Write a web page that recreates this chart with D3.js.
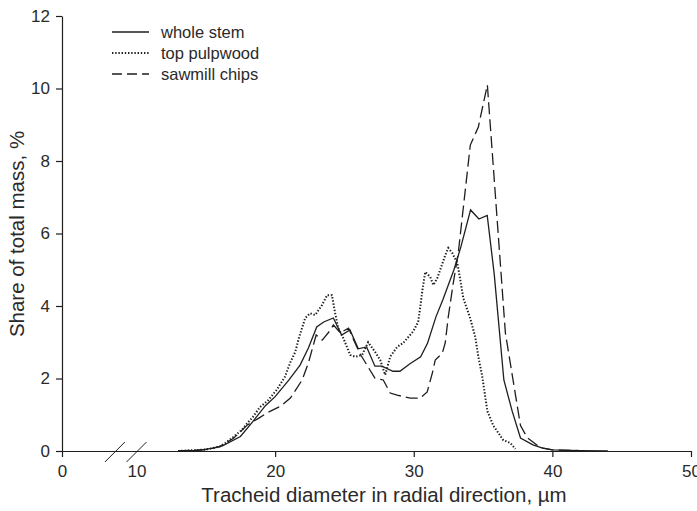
<!DOCTYPE html>
<html><head><meta charset="utf-8">
<script src="https://cdn.jsdelivr.net/npm/d3@7"></script>
<style>body{margin:0;background:#fff}svg{display:block}text{font-family:"Liberation Sans",Arial,sans-serif;fill:#2a2a2a}</style>
</head><body><svg id="c" width="697" height="511"></svg>
<script>
const seriesNames = ["whole stem", "top pulpwood", "sawmill chips"];
const xTicks = [0, 10, 20, 30, 40, 50];
const yTicks = [0, 2, 4, 6, 8, 10, 12];
const breakMarks = [7.1, 10];

const wholeStemX = [13,14.5,15.5,16.2,17.5,18.3,19.3,20,21,21.8,22.4,23,23.5,24.2,24.8,25.4,26,26.6,27.2,27.7,28.5,29,29.7,30.5,31,31.6,32.1,32.9,33.4,34.1,34.7,35.3,35.8,36.5,37.1,37.7,38.6,39.3,40,42,44];
const wholeStemY = [0,0.02,0.08,0.14,0.4,0.77,1.25,1.5,1.96,2.37,2.84,3.42,3.56,3.67,3.2,3.34,2.82,2.87,2.34,2.34,2.2,2.2,2.4,2.6,2.98,3.7,4.17,5.0,5.63,6.65,6.4,6.5,4.9,1.96,1.1,0.36,0.17,0.08,0.03,0.01,0];

const pulpX = [13,15,16,16.4,16.9,17.6,18.0,18.4,18.9,19.5,20.1,20.7,21.1,21.45,21.7,22.17,22.53,22.89,23.39,23.75,24.1,24.33,24.55,24.91,25.42,25.78,26.28,26.71,27.22,27.58,27.94,28.3,28.8,29.24,29.96,30.32,30.47,30.61,30.83,31.19,31.41,31.7,31.91,32.27,32.49,32.78,33.14,33.36,33.57,34.08,34.44,34.66,34.95,35.31,35.74,36.46,36.97,37.33];
const pulpY = [0,0.04,0.12,0.22,0.36,0.58,0.77,0.94,1.21,1.4,1.68,2.04,2.45,2.73,3.1,3.67,3.8,3.75,4.03,4.3,4.3,3.8,3.39,3.12,2.65,2.6,2.65,3.0,2.73,2.51,2.1,2.6,2.87,2.98,3.3,3.56,3.97,4.4,4.94,4.8,4.58,4.77,5.0,5.4,5.6,5.46,5.19,4.72,4.22,3.65,3.14,2.6,2.04,1.1,0.7,0.3,0.22,0.06];

const chipsX = [13,15,16,17,18,18.8,19.4,20.4,21.1,21.95,22.4,22.96,23.4,24.0,24.2,24.7,25.3,25.6,26.1,26.7,27.2,27.8,28.3,28.8,29.75,30.47,30.97,31.34,31.55,32.06,32.27,32.49,32.85,33.21,34.08,34.66,35.31,36.61,37.2,37.7,38.2,38.6,39.1,40,42];
const chipsY = [0,0.04,0.12,0.35,0.72,0.9,1.05,1.24,1.46,1.96,2.43,3.2,3.06,3.34,3.48,3.26,3.39,3.12,2.7,2.32,2.01,1.96,1.6,1.54,1.46,1.46,1.63,2.15,2.51,2.7,2.98,3.7,4.63,5.46,8.44,8.94,10.1,3.26,1.87,0.7,0.36,0.25,0.1,0.03,0.01];

const svg = d3.select("#c");
const ink = "#1e1e1e";
const x = d3.scaleLinear().domain([0, 10, 50]).range([62, 136.5, 691]);
const y = d3.scaleLinear().domain([0, 12]).range([451, 16]);

// axes
const gx = svg.append("g").attr("transform", `translate(0,${y(0)})`)
  .call(d3.axisBottom(x).tickValues(xTicks).tickSize(6).tickPadding(8).tickSizeOuter(0));
gx.selectAll(".tick").filter(d => d === 10).select("line").remove();
const gy = svg.append("g").attr("transform", `translate(${x(0)},0)`)
  .call(d3.axisLeft(y).tickValues(yTicks).tickSize(6).tickPadding(6).tickSizeOuter(0));
[gx, gy].forEach(g => {
  g.select(".domain").attr("stroke", ink).attr("stroke-width", 1.2);
  g.selectAll(".tick line").attr("stroke", ink).attr("stroke-width", 1.2);
  g.selectAll(".tick text").style("font-size", "17px").attr("fill", "#2a2a2a")
    .style("font-family", '"Liberation Sans",Arial,sans-serif');
});

// axis break marks
svg.append("g").selectAll("line").data(breakMarks).join("line")
  .attr("x1", d => x(d) - 10).attr("y1", y(0) + 11)
  .attr("x2", d => x(d) + 10).attr("y2", y(0) - 9)
  .attr("stroke", ink).attr("stroke-width", 1);

// series
const styles = [
  {dash: null, w: 1.3},
  {dash: "1.4,1.8", w: 2},
  {dash: "12,5", w: 1.3}
];
const data = [
  wholeStemX.map((v, i) => [v, wholeStemY[i]]),
  pulpX.map((v, i) => [v, pulpY[i]]),
  chipsX.map((v, i) => [v, chipsY[i]])
];
const line = d3.line().x(d => x(d[0])).y(d => y(d[1]));
data.forEach((d, i) => {
  svg.append("path").datum(d).attr("d", line).attr("fill", "none")
    .attr("stroke", ink).attr("stroke-width", styles[i].w)
    .attr("stroke-dasharray", styles[i].dash);
});

// legend
const lg = svg.append("g");
seriesNames.forEach((n, i) => {
  const yy = 32 + i * 21;
  lg.append("line").attr("x1", 112).attr("x2", 149).attr("y1", yy).attr("y2", yy)
    .attr("stroke", ink).attr("stroke-width", styles[i].w).attr("stroke-dasharray", i === 2 ? "10,5" : styles[i].dash);
  lg.append("text").attr("x", 161).attr("y", yy + 5.5).style("font-size", "16.5px").text(n);
});

// titles
svg.append("text").attr("x", 384).attr("y", 502).attr("text-anchor", "middle")
  .style("font-size", "20.5px").text("Tracheid diameter in radial direction, µm");
svg.append("text").attr("transform", "translate(24,234) rotate(-90)").attr("text-anchor", "middle")
  .style("font-size", "20.5px").text("Share of total mass, %");
</script></body></html>
